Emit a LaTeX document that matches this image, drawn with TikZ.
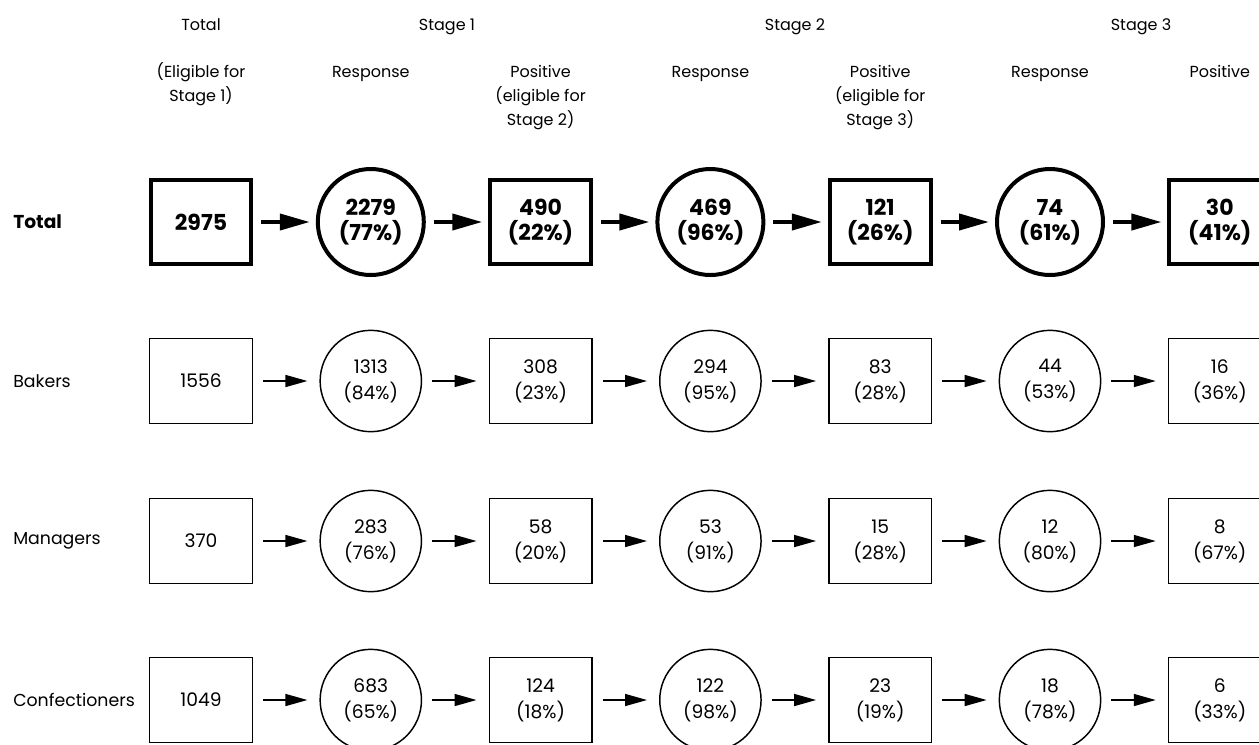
\documentclass[tikz,border=0pt]{standalone}
\usepackage{fontspec}
\setmainfont{Poppins}
\usepackage{tikz}
\usetikzlibrary{arrows.meta}

\tikzset{
  txt/.style={font=\fontsize{14}{19.5}\selectfont, align=center, inner sep=0pt},
  head/.style={font=\fontsize{12}{18}\selectfont, align=center, inner sep=0pt, anchor=north},
  box/.style={txt, draw, line width=1.1pt, minimum width=77pt, minimum height=63.5pt},
  ring/.style={txt, draw, circle, line width=1.1pt, minimum size=76pt},
  boldbox/.style={box, line width=3pt, minimum width=75.5pt, minimum height=63pt, font=\fontsize{16.5}{19}\selectfont\bfseries},
  boldring/.style={ring, line width=3pt, minimum size=79.5pt, font=\fontsize{16.5}{19}\selectfont\bfseries},
  link/.style={line width=1.1pt, -{Triangle[length=16.5pt,width=9pt]}, shorten <=7.5pt, shorten >=9pt},
  boldlink/.style={line width=3pt, -{Triangle[length=22.5pt,width=12pt]}, shorten <=6pt, shorten >=4.5pt}
}

\begin{document}
\begin{tikzpicture}[x=0.75pt,y=-0.75pt]
  \useasboundingbox (0,0) rectangle (1259,744);
  % Headers
  \foreach \x/\t in {201/Total, 447/Stage 1, 795/Stage 2, 1141/Stage 3} {
    \node[head] (h\x) at (\x,13.2) {\strut\t};
  }
  \node[head] (c1) at (201,60.2) {\strut(Eligible for\\Stage 1)};
  \foreach \c/\t in {2/Response, 3/{Positive\\(eligible for\\Stage 2)}, 4/Response,
                     5/{Positive\\(eligible for\\Stage 3)}, 6/Response, 7/Positive} {
    \node[head] (c\c) at ({201+(\c-1)*169.8},60.2) {\strut\t};
  }
  % Row labels
  \node[txt, anchor=west, font=\fontsize{14}{16}\selectfont\bfseries] (lt) at (13,222) {Total};
  \foreach \r/\y/\t in {b/381/Bakers, m/541/Managers, c/700/Confectioners} {
    \node[txt, anchor=west, font=\fontsize{13}{16}\selectfont] (l\r) at (13,\y) {\t};
  }
  % Nodes
  \node[boldbox] (t1) at (201,222) {2975};
  \foreach \c/\s/\v/\p in {2/boldring/2279/77, 3/boldbox/490/22, 4/boldring/469/96,
                           5/boldbox/121/26, 6/boldring/74/61, 7/boldbox/30/41} {
    \node[\s] (t\c) at ({201+(\c-1)*169.8},222) {\v\\(\p\%)};
  }
  \foreach \r/\y/\n in {b/381/1556, m/541/370, c/700/1049} {
    \node[box] (\r1) at (201,\y) {\n};
  }
  \foreach \c/\s/\v/\p in {2/ring/1313/84, 3/box/308/23, 4/ring/294/95,
                           5/box/83/28, 6/ring/44/53, 7/box/16/36} {
    \node[\s] (b\c) at ({201+(\c-1)*169.8},381) {\v\\(\p\%)};
  }
  \foreach \c/\s/\v/\p in {2/ring/283/76, 3/box/58/20, 4/ring/53/91,
                           5/box/15/28, 6/ring/12/80, 7/box/8/67} {
    \node[\s] (m\c) at ({201+(\c-1)*169.8},541) {\v\\(\p\%)};
  }
  \foreach \c/\s/\v/\p in {2/ring/683/65, 3/box/124/18, 4/ring/122/98,
                           5/box/23/19, 6/ring/18/78, 7/box/6/33} {
    \node[\s] (c\c) at ({201+(\c-1)*169.8},700) {\v\\(\p\%)};
  }
  % Edges
  \foreach \source/\target in {1/2, 2/3, 3/4, 4/5, 5/6, 6/7} {
    \draw[boldlink] (t\source) -- (t\target);
    \foreach \r in {b, m, c} {
      \draw[link] (\r\source) -- (\r\target);
    }
  }
\end{tikzpicture}
\end{document}
